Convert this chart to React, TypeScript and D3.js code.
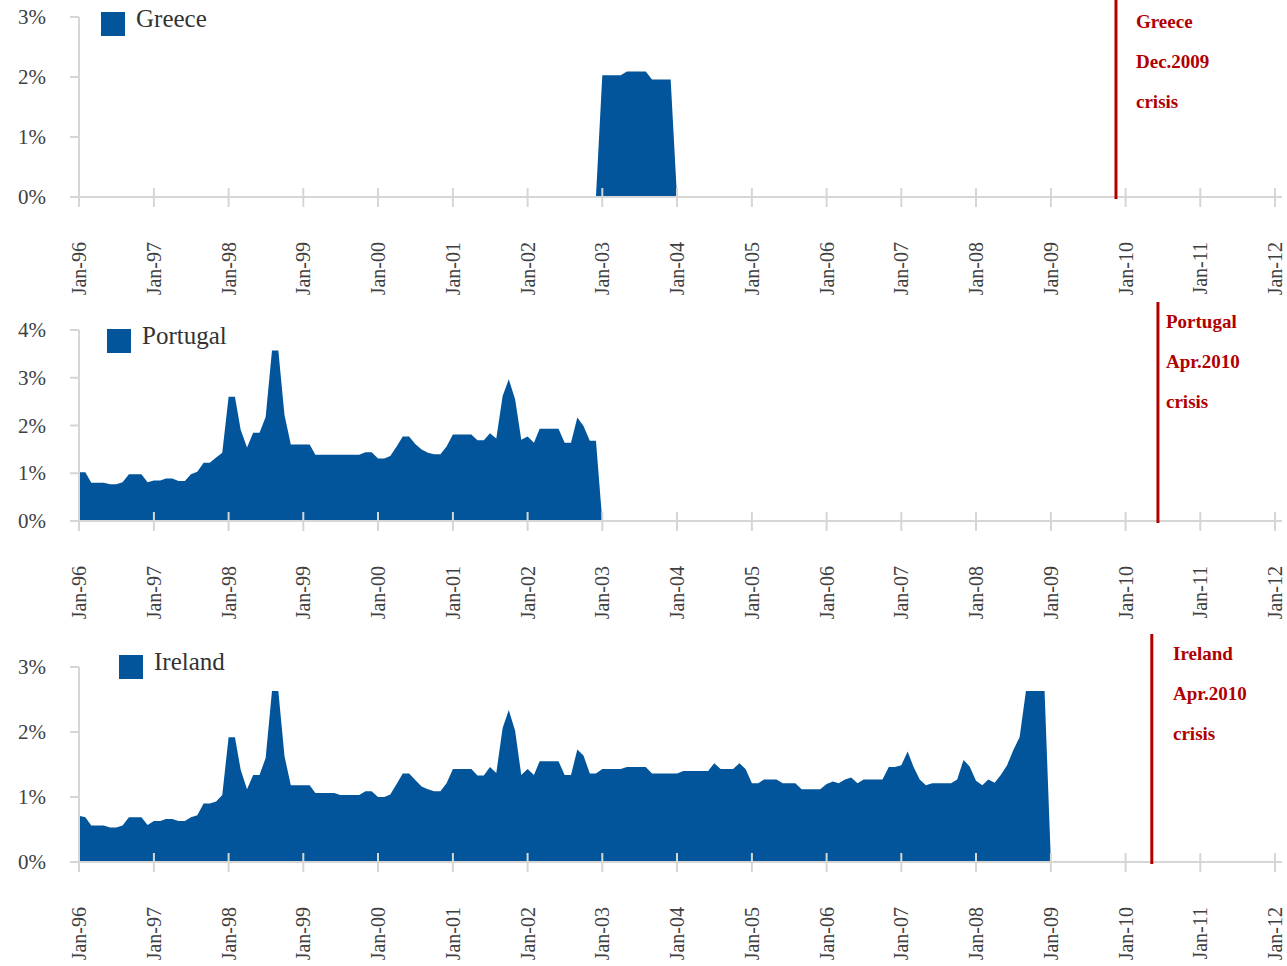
import React from "react";
import * as d3 from "d3";

// ---- data (monthly, % ) ----
const tickYears = d3.range(1996, 2013);
const tickLabels = tickYears.map((y) => `Jan-${String(y % 100).padStart(2, "0")}`);

const greeceStart = "2002-12";
const greeceValues = [0, 2.03, 2.03, 2.03, 2.03, 2.09, 2.09, 2.09, 2.09, 1.96, 1.96, 1.96, 1.96, 0];

const portugalStart = "1996-01";
const portugalValues = [
  1.02, 1.02, 0.8, 0.8, 0.8, 0.77, 0.77, 0.81, 0.98, 0.98, 0.98, 0.81,
  0.85, 0.85, 0.89, 0.89, 0.84, 0.84, 0.98, 1.03, 1.22, 1.22, 1.33, 1.43,
  2.6, 2.6, 1.91, 1.54, 1.85, 1.85, 2.18, 3.57, 3.57, 2.22, 1.6, 1.6,
  1.6, 1.6, 1.39, 1.39, 1.39, 1.39, 1.39, 1.39, 1.39, 1.39, 1.44, 1.44,
  1.31, 1.31, 1.36, 1.56, 1.77, 1.77, 1.61, 1.5, 1.43, 1.4, 1.4, 1.56,
  1.81, 1.81, 1.81, 1.81, 1.69, 1.69, 1.84, 1.73, 2.62, 2.97, 2.55, 1.7,
  1.77, 1.64, 1.93, 1.93, 1.93, 1.93, 1.64, 1.64, 2.17, 1.99, 1.68, 1.68,
  0,
];

const irelandStart = "1996-01";
const irelandValues = [
  0.71, 0.69, 0.56, 0.56, 0.56, 0.53, 0.53, 0.56, 0.69, 0.69, 0.69, 0.57,
  0.63, 0.63, 0.66, 0.66, 0.63, 0.63, 0.69, 0.72, 0.9, 0.9, 0.93, 1.03,
  1.92, 1.92, 1.42, 1.12, 1.34, 1.34, 1.6, 2.63, 2.63, 1.63, 1.18, 1.18,
  1.18, 1.18, 1.06, 1.06, 1.06, 1.06, 1.03, 1.03, 1.03, 1.03, 1.09, 1.09,
  1.0, 1.0, 1.04, 1.2, 1.36, 1.36, 1.26, 1.16, 1.12, 1.09, 1.09, 1.21,
  1.43, 1.43, 1.43, 1.43, 1.33, 1.33, 1.46, 1.37, 2.06, 2.34, 2.02, 1.34,
  1.43, 1.34, 1.55, 1.55, 1.55, 1.55, 1.34, 1.34, 1.73, 1.64, 1.36, 1.36,
  1.43, 1.43, 1.43, 1.43, 1.46, 1.46, 1.46, 1.46, 1.36, 1.36, 1.36, 1.36,
  1.36, 1.4, 1.4, 1.4, 1.4, 1.4, 1.52, 1.43, 1.43, 1.43, 1.52, 1.43,
  1.21, 1.21, 1.27, 1.27, 1.27, 1.21, 1.21, 1.21, 1.12, 1.12, 1.12, 1.12,
  1.2, 1.24, 1.21, 1.27, 1.3, 1.21, 1.27, 1.27, 1.27, 1.27, 1.46, 1.46,
  1.49, 1.7, 1.47, 1.27, 1.18, 1.21, 1.21, 1.21, 1.21, 1.27, 1.57, 1.47,
  1.25, 1.18, 1.27, 1.22, 1.34, 1.49, 1.72, 1.92, 2.63, 2.63, 2.63, 2.63,
  0,
];

const countries = ["Greece", "Portugal", "Ireland"];
const crisisDates = ["2009-11-15", "2010-06-08", "2010-05-09"];
const crisisLabels = [
  ["Greece", "Dec.2009", "crisis"],
  ["Portugal", "Apr.2010", "crisis"],
  ["Ireland", "Apr.2010", "crisis"],
];
const yMaxes = [3, 4, 3];

// ---- layout ----
const W = 1287;
const H = 966;
const FONT = "'Liberation Serif', 'Times New Roman', serif";
const BLUE = "#02559a";
const RED = "#b00000";
const GRID = "#d6d6d6";

const panels = [
  { base: 197, top: 17, redTop: 0, redX: 1136, redBase: 28, legX: 101, legY: 12, labelTop: 242 },
  { base: 521, top: 330, redTop: 302, redX: 1166, redBase: 328, legX: 107, legY: 329, labelTop: 566 },
  { base: 862, top: 667, redTop: 634, redX: 1173, redBase: 660, legX: 119, legY: 655, labelTop: 907 },
];

const parseMonth = d3.timeParse("%Y-%m");
const parseDay = d3.timeParse("%Y-%m-%d");

function toSeries(start: string, values: number[]) {
  const s = parseMonth(start)!;
  return values.map((v, i) => ({ date: d3.timeMonth.offset(s, i), v }));
}

const seriesList = [
  toSeries(greeceStart, greeceValues),
  toSeries(portugalStart, portugalValues),
  toSeries(irelandStart, irelandValues),
];

const x = d3
  .scaleTime()
  .domain([new Date(1996, 0, 1), new Date(2012, 0, 1)])
  .range([79, 1275]);
const tickDates = tickYears.map((y) => new Date(y, 0, 1));

function Panel({ idx }: { idx: number }) {
  const p = panels[idx];
  const y = d3.scaleLinear().domain([0, yMaxes[idx]]).range([p.base, p.top]);
  const area = d3
    .area<{ date: Date; v: number }>()
    .x((d) => x(d.date))
    .y0(y(0))
    .y1((d) => y(d.v));
  const yTicks = d3.range(0, yMaxes[idx] + 1);
  const cx = x(parseDay(crisisDates[idx])!);
  return (
    <g>
      <path d={area(seriesList[idx]) || ""} fill={BLUE} />
      {/* y axis */}
      <line x1={79} x2={79} y1={y(yMaxes[idx])} y2={p.base} stroke={GRID} strokeWidth={2} />
      {yTicks.map((t) => (
        <g key={t}>
          <line x1={70} x2={79} y1={y(t)} y2={y(t)} stroke={GRID} strokeWidth={2} />
          <text
            x={46}
            y={y(t)}
            textAnchor="end"
            dominantBaseline="central"
            fontFamily={FONT}
            fontSize={21}
            fill="#404040"
          >
            {t}%
          </text>
        </g>
      ))}
      {/* x axis */}
      <line x1={70} x2={1282} y1={p.base} y2={p.base} stroke={GRID} strokeWidth={2} />
      {tickDates.map((d, i) => (
        <g key={i}>
          <line x1={x(d)} x2={x(d)} y1={p.base - 9} y2={p.base + 10} stroke={GRID} strokeWidth={2} />
          <text
            transform={`translate(${x(d)},${p.labelTop}) rotate(-90)`}
            textAnchor="end"
            dominantBaseline="central"
            fontFamily={FONT}
            fontSize={20}
            fill="#404040"
          >
            {tickLabels[i]}
          </text>
        </g>
      ))}
      {/* legend */}
      <rect x={p.legX} y={p.legY} width={24} height={24} fill={BLUE} />
      <text x={p.legX + 35} y={p.legY + 15} fontFamily={FONT} fontSize={25} fill="#333" >
        {countries[idx]}
      </text>
      {/* crisis marker */}
      <line x1={cx} x2={cx} y1={p.redTop} y2={p.base + 2} stroke={RED} strokeWidth={3} />
      {crisisLabels[idx].map((t, j) => (
        <text
          key={j}
          x={p.redX}
          y={p.redBase + j * 40}
          fontFamily={FONT}
          fontSize={19}
          fontWeight="bold"
          fill={RED}
        >
          {t}
        </text>
      ))}
    </g>
  );
}

export default function App() {
  return (
    <svg
      width={W}
      height={H}
      style={{ position: "absolute", left: 0, top: 0, background: "#fff" }}
    >
      {panels.map((_, i) => (
        <Panel key={i} idx={i} />
      ))}
    </svg>
  );
}
